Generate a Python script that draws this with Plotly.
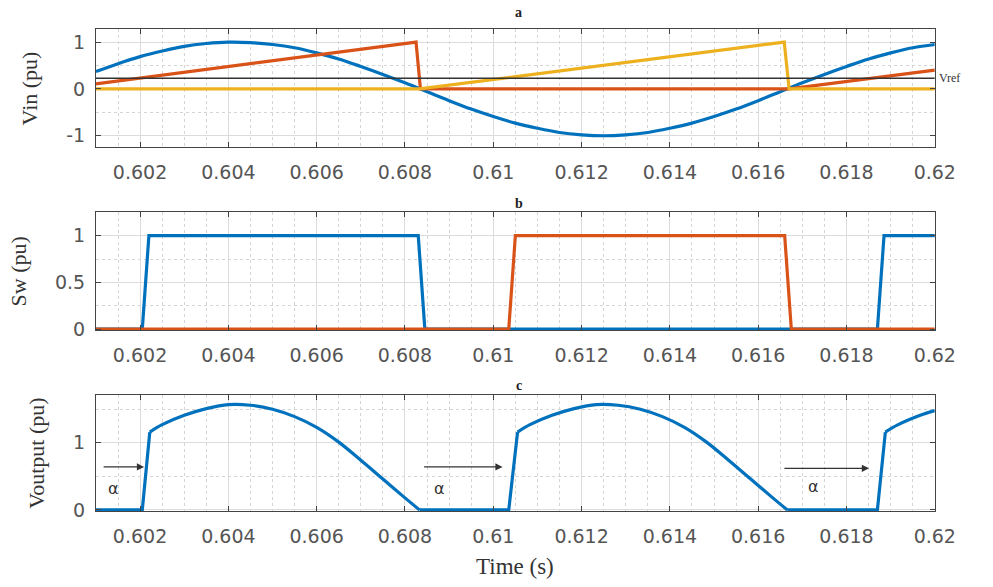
import plotly.graph_objects as go

# ---------------- data ----------------
t_vin = [0.6010, 0.6015, 0.6020, 0.6025, 0.6030, 0.6035, 0.6040, 0.6045, 0.6050, 0.6055,
         0.6060, 0.6065, 0.6070, 0.6075, 0.6080, 0.6085, 0.6090, 0.6095, 0.6100, 0.6105,
         0.6110, 0.6115, 0.6120, 0.6125, 0.6130, 0.6135, 0.6140, 0.6145, 0.6150, 0.6155,
         0.6160, 0.6165, 0.6170, 0.6175, 0.6180, 0.6185, 0.6190, 0.6195, 0.6200]
v_vin = [0.37, 0.54, 0.69, 0.81, 0.91, 0.97, 1.00, 0.99, 0.95, 0.88,
         0.77, 0.64, 0.48, 0.31, 0.13, -0.06, -0.25, -0.43, -0.59, -0.73,
         -0.84, -0.93, -0.98, -1.00, -0.98, -0.93, -0.84, -0.73, -0.59, -0.43,
         -0.25, -0.06, 0.13, 0.31, 0.48, 0.64, 0.77, 0.88, 0.95]

t_saw1 = [0.6010, 0.60825, 0.60835, 0.61670, 0.6200]
v_saw1 = [0.11, 1.00, 0.00, 0.00, 0.40]

t_saw2 = [0.6010, 0.60833, 0.61659, 0.61670, 0.6200]
v_saw2 = [0.00, 0.00, 1.00, 0.00, 0.00]

t_vref = [0.6010, 0.6200]
v_vref = [0.23, 0.23]

t_sw1 = [0.6010, 0.60205, 0.60220, 0.60830, 0.60845, 0.61870, 0.61885, 0.6200]
v_sw1 = [0, 0, 1, 1, 0, 0, 1, 1]

t_sw2 = [0.6010, 0.61035, 0.61050, 0.61660, 0.61675, 0.6200]
v_sw2 = [0, 0, 1, 1, 0, 0]

# output voltage: off intervals (flat + firing edge) and conduction humps
t_off = [0.6010, 0.60205, 0.60222, None, 0.60833, 0.61035, 0.61055, None, 0.61666, 0.61870, 0.61888]
v_off = [0, 0, 1.16, None, 0, 0, 1.16, None, 0, 0, 1.16]

t_hump = [0.60222, 0.6025, 0.6030, 0.6035, 0.6040, 0.6045, 0.6050, 0.6055, 0.6060, 0.6065, 0.6070, 0.6075, 0.6080, 0.60833, None,
          0.61055, 0.61083, 0.61133, 0.61183, 0.61233, 0.61283, 0.61333, 0.61383, 0.61433, 0.61483, 0.61533, 0.61583, 0.61633, 0.61666, None,
          0.61888, 0.61917, 0.61967, 0.6200]
v_hump = [1.16, 1.27, 1.41, 1.51, 1.57, 1.56, 1.50, 1.39, 1.23, 1.01, 0.74, 0.46, 0.18, 0.0, None,
          1.16, 1.27, 1.41, 1.51, 1.57, 1.56, 1.50, 1.39, 1.23, 1.01, 0.74, 0.46, 0.18, 0.0, None,
          1.16, 1.27, 1.41, 1.48]

x_tickvals = [0.602, 0.604, 0.606, 0.608, 0.610, 0.612, 0.614, 0.616, 0.618, 0.620]
x_ticktext = ["0.602", "0.604", "0.606", "0.608", "0.61", "0.612", "0.614", "0.616", "0.618", "0.62"]

alpha_arrow_start = [0.60114, 0.60840, 0.61656]
alpha_arrow_end = [0.60209, 0.61021, 0.61851]
alpha_arrow_y = [0.64, 0.64, 0.62]
alpha_label_x = [0.60140, 0.60878, 0.61725]
alpha_label_y = [0.32, 0.32, 0.35]

# ---------------- styling ----------------
BLUE = "#0072BD"
RED = "#D95319"
YEL = "#EDB120"
LW = 3.2

fig = go.Figure()

fig.add_trace(go.Scatter(x=t_vin, y=v_vin, mode="lines", line=dict(color=BLUE, width=LW, shape="spline"),
                         xaxis="x", yaxis="y", showlegend=False))
fig.add_trace(go.Scatter(x=t_saw1, y=v_saw1, mode="lines", line=dict(color=RED, width=LW),
                         xaxis="x", yaxis="y", showlegend=False))
fig.add_trace(go.Scatter(x=t_saw2, y=v_saw2, mode="lines", line=dict(color=YEL, width=LW),
                         xaxis="x", yaxis="y", showlegend=False))
fig.add_trace(go.Scatter(x=t_vref, y=v_vref, mode="lines", line=dict(color="#333333", width=1.5),
                         xaxis="x", yaxis="y", showlegend=False))

fig.add_trace(go.Scatter(x=t_sw1, y=v_sw1, mode="lines", line=dict(color=BLUE, width=LW),
                         xaxis="x2", yaxis="y2", showlegend=False))
fig.add_trace(go.Scatter(x=t_sw2, y=v_sw2, mode="lines", line=dict(color=RED, width=LW),
                         xaxis="x2", yaxis="y2", showlegend=False))

fig.add_trace(go.Scatter(x=t_off, y=v_off, mode="lines", line=dict(color=BLUE, width=LW),
                         xaxis="x3", yaxis="y3", showlegend=False, connectgaps=False))
fig.add_trace(go.Scatter(x=t_hump, y=v_hump, mode="lines", line=dict(color=BLUE, width=LW, shape="spline", smoothing=1),
                         xaxis="x3", yaxis="y3", showlegend=False, connectgaps=False))

W, H = 993, 587
x0, x1 = 98 / W, 955 / W
doms = {"a": (1 - 150 / H, 1 - 30 / H), "b": (1 - 336 / H, 1 - 216 / H), "c": (1 - 520 / H, 1 - 402 / H)}

tickfont = dict(family="DejaVu Sans", size=19, color="#555555")
titlefont = dict(family="Liberation Serif", size=22, color="#333333")
GRID = "#dcdcdc"
MINOR = "#d4d4d4"
LINEC = "#444444"


def xax(anchor, dom):
    return dict(domain=[x0, x1], anchor=anchor, range=[0.601, 0.620],
                tickvals=x_tickvals, ticktext=x_ticktext, tickfont=tickfont,
                ticks="inside", ticklen=5, tickcolor=LINEC, showline=True, linecolor=LINEC, linewidth=1,
                mirror="ticks", showgrid=True, gridcolor=GRID, gridwidth=1, zeroline=False,
                ticklabelstandoff=8,
                minor=dict(dtick=0.0005, tick0=0.6, showgrid=True, gridcolor=MINOR, griddash="dot", ticks=""))


def yax(anchor, dom, rng, vals, texts, mdt, title):
    return dict(domain=list(dom), anchor=anchor, range=rng, tickvals=vals, ticktext=texts,
                tickfont=tickfont, ticks="inside", ticklen=5, tickcolor=LINEC, showline=True,
                linecolor=LINEC, linewidth=1, mirror="ticks", showgrid=True, gridcolor=GRID,
                zeroline=False, ticklabelstandoff=6,
                title=dict(text=title, font=titlefont, standoff=22),
                minor=dict(dtick=mdt, tick0=0, showgrid=True, gridcolor=MINOR, griddash="dot", ticks=""))


fig.update_layout(
    width=W, height=H, margin=dict(l=0, r=0, t=0, b=0),
    paper_bgcolor="white", plot_bgcolor="white",
    xaxis=xax("y", doms["a"]),
    xaxis2=xax("y2", doms["b"]),
    xaxis3=xax("y3", doms["c"]),
    yaxis=yax("x", doms["a"], [-1.25, 1.27], [-1, 0, 1], ["-1", "0", "1"], 0.5, "Vin (pu)"),
    yaxis2=yax("x2", doms["b"], [-0.012, 1.25], [0, 0.5, 1], ["0", "0.5", "1"], 0.25, "Sw (pu)"),
    yaxis3=yax("x3", doms["c"], [-0.018, 1.71], [0, 1], ["0", "1"], 0.5, "Voutput (pu)"),
)

ann = []
for lbl, ypx in (("a", 13), ("b", 207), ("c", 392)):
    ann.append(dict(text="<b>%s</b>" % lbl, xref="paper", yref="paper", x=530 / W, y=1 - ypx / H,
                    showarrow=False, xanchor="center", yanchor="middle",
                    font=dict(family="Liberation Serif", size=14, color="#222222")))
ann.append(dict(text="Vref", xref="paper", yref="y", x=957 / W, y=v_vref[0], showarrow=False,
                xanchor="left", yanchor="middle", font=dict(family="Liberation Serif", size=12, color="#333333")))
ann.append(dict(text="Time (s)", xref="paper", yref="paper", x=526 / W, y=1 - 576 / H, showarrow=False,
                xanchor="center", yanchor="middle", font=dict(family="Liberation Serif", size=23, color="#333333")))
for xs, xe, ya, xl, yl in zip(alpha_arrow_start, alpha_arrow_end, alpha_arrow_y, alpha_label_x, alpha_label_y):
    ann.append(dict(x=xe, y=ya, ax=xs, ay=ya, xref="x3", yref="y3", axref="x3", ayref="y3",
                    showarrow=True, arrowhead=2, arrowsize=1.2, arrowwidth=1.2, arrowcolor="#333333", text=""))
    ann.append(dict(x=xl, y=yl, xref="x3", yref="y3", text="α", showarrow=False,
                    font=dict(family="DejaVu Sans", size=16, color="#333333")))
fig.update_layout(annotations=ann)

fig.write_html("out.html")
